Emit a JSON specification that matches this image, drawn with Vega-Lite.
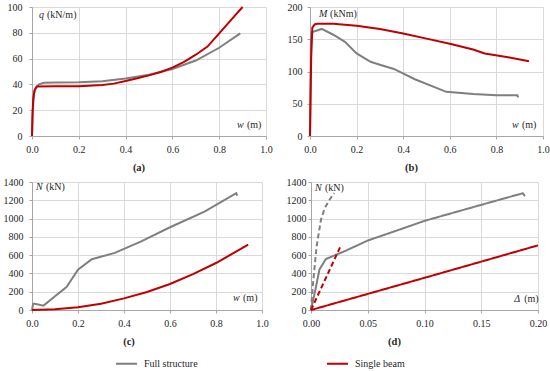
{
  "$schema": "https://vega.github.io/schema/vega-lite/v6.json",
  "padding": {"left": 3, "top": 2, "right": 0, "bottom": 0},
  "datasets": {
    "a": [
      {"series": "Full structure", "x": 0, "y": 0},
      {"series": "Full structure", "x": 0.003, "y": 20},
      {"series": "Full structure", "x": 0.008, "y": 32},
      {"series": "Full structure", "x": 0.015, "y": 37},
      {"series": "Full structure", "x": 0.03, "y": 40},
      {"series": "Full structure", "x": 0.05, "y": 41.3},
      {"series": "Full structure", "x": 0.1, "y": 41.4},
      {"series": "Full structure", "x": 0.2, "y": 41.6},
      {"series": "Full structure", "x": 0.3, "y": 42.4},
      {"series": "Full structure", "x": 0.4, "y": 44.6},
      {"series": "Full structure", "x": 0.5, "y": 47.5},
      {"series": "Full structure", "x": 0.6, "y": 52},
      {"series": "Full structure", "x": 0.7, "y": 58.5},
      {"series": "Full structure", "x": 0.8, "y": 68.4},
      {"series": "Full structure", "x": 0.89, "y": 79.6},
      {"series": "Single beam", "x": 0, "y": 0},
      {"series": "Single beam", "x": 0.002, "y": 15},
      {"series": "Single beam", "x": 0.005, "y": 28},
      {"series": "Single beam", "x": 0.01, "y": 35},
      {"series": "Single beam", "x": 0.02, "y": 38.3},
      {"series": "Single beam", "x": 0.1, "y": 38.5},
      {"series": "Single beam", "x": 0.2, "y": 38.6},
      {"series": "Single beam", "x": 0.3, "y": 39.5},
      {"series": "Single beam", "x": 0.35, "y": 40.6},
      {"series": "Single beam", "x": 0.4, "y": 42.7},
      {"series": "Single beam", "x": 0.45, "y": 44.7},
      {"series": "Single beam", "x": 0.5, "y": 47},
      {"series": "Single beam", "x": 0.55, "y": 49.6},
      {"series": "Single beam", "x": 0.6, "y": 53},
      {"series": "Single beam", "x": 0.65, "y": 57.5},
      {"series": "Single beam", "x": 0.7, "y": 63},
      {"series": "Single beam", "x": 0.75, "y": 69.3},
      {"series": "Single beam", "x": 0.8, "y": 79.5},
      {"series": "Single beam", "x": 0.85, "y": 89.8},
      {"series": "Single beam", "x": 0.9, "y": 100}
    ],
    "b": [
      {"series": "Full structure", "x": 0, "y": 0},
      {"series": "Full structure", "x": 0.004, "y": 150},
      {"series": "Full structure", "x": 0.008, "y": 160.5},
      {"series": "Full structure", "x": 0.02, "y": 162.5},
      {"series": "Full structure", "x": 0.05, "y": 166},
      {"series": "Full structure", "x": 0.1, "y": 157},
      {"series": "Full structure", "x": 0.15, "y": 146},
      {"series": "Full structure", "x": 0.2, "y": 128},
      {"series": "Full structure", "x": 0.26, "y": 115},
      {"series": "Full structure", "x": 0.3, "y": 110.5},
      {"series": "Full structure", "x": 0.36, "y": 104},
      {"series": "Full structure", "x": 0.45, "y": 88},
      {"series": "Full structure", "x": 0.585, "y": 68.5},
      {"series": "Full structure", "x": 0.7, "y": 65},
      {"series": "Full structure", "x": 0.8, "y": 63},
      {"series": "Full structure", "x": 0.89, "y": 63},
      {"series": "Full structure", "x": 0.893, "y": 60},
      {"series": "Single beam", "x": 0, "y": 0},
      {"series": "Single beam", "x": 0.005, "y": 120},
      {"series": "Single beam", "x": 0.01, "y": 168},
      {"series": "Single beam", "x": 0.02, "y": 173},
      {"series": "Single beam", "x": 0.03, "y": 174},
      {"series": "Single beam", "x": 0.1, "y": 174},
      {"series": "Single beam", "x": 0.2, "y": 171},
      {"series": "Single beam", "x": 0.3, "y": 166},
      {"series": "Single beam", "x": 0.4, "y": 159},
      {"series": "Single beam", "x": 0.5, "y": 151},
      {"series": "Single beam", "x": 0.6, "y": 143},
      {"series": "Single beam", "x": 0.7, "y": 134},
      {"series": "Single beam", "x": 0.75, "y": 128},
      {"series": "Single beam", "x": 0.85, "y": 122},
      {"series": "Single beam", "x": 0.94, "y": 116}
    ],
    "c": [
      {"series": "Full structure", "x": 0, "y": 0},
      {"series": "Full structure", "x": 0.005, "y": 68},
      {"series": "Full structure", "x": 0.012, "y": 68},
      {"series": "Full structure", "x": 0.05, "y": 48},
      {"series": "Full structure", "x": 0.1, "y": 150},
      {"series": "Full structure", "x": 0.15, "y": 250},
      {"series": "Full structure", "x": 0.2, "y": 440},
      {"series": "Full structure", "x": 0.26, "y": 555},
      {"series": "Full structure", "x": 0.36, "y": 625},
      {"series": "Full structure", "x": 0.475, "y": 750},
      {"series": "Full structure", "x": 0.6, "y": 905},
      {"series": "Full structure", "x": 0.75, "y": 1075},
      {"series": "Full structure", "x": 0.888, "y": 1277},
      {"series": "Full structure", "x": 0.892, "y": 1250},
      {"series": "Single beam", "x": 0, "y": 0},
      {"series": "Single beam", "x": 0.1, "y": 8},
      {"series": "Single beam", "x": 0.2, "y": 30},
      {"series": "Single beam", "x": 0.3, "y": 68},
      {"series": "Single beam", "x": 0.4, "y": 127},
      {"series": "Single beam", "x": 0.5, "y": 197},
      {"series": "Single beam", "x": 0.6, "y": 285},
      {"series": "Single beam", "x": 0.7, "y": 392},
      {"series": "Single beam", "x": 0.8, "y": 514},
      {"series": "Single beam", "x": 0.94, "y": 714}
    ],
    "d": [
      {"series": "Full structure", "group": "main", "x": 0, "y": 0},
      {"series": "Full structure", "group": "main", "x": 0.004, "y": 230},
      {"series": "Full structure", "group": "main", "x": 0.0075, "y": 445},
      {"series": "Full structure", "group": "main", "x": 0.0132, "y": 558},
      {"series": "Full structure", "group": "main", "x": 0.03, "y": 645},
      {"series": "Full structure", "group": "main", "x": 0.05, "y": 760},
      {"series": "Full structure", "group": "main", "x": 0.08, "y": 888},
      {"series": "Full structure", "group": "main", "x": 0.1, "y": 975},
      {"series": "Full structure", "group": "main", "x": 0.15, "y": 1150},
      {"series": "Full structure", "group": "main", "x": 0.1865, "y": 1277},
      {"series": "Full structure", "group": "main", "x": 0.1885, "y": 1245},
      {"series": "Single beam", "group": "main", "x": 0, "y": 0},
      {"series": "Single beam", "group": "main", "x": 0.05, "y": 176},
      {"series": "Single beam", "group": "main", "x": 0.1, "y": 352},
      {"series": "Single beam", "group": "main", "x": 0.15, "y": 529},
      {"series": "Single beam", "group": "main", "x": 0.2, "y": 707},
      {"series": "Full structure", "group": "initial", "x": 0, "y": 0},
      {"series": "Full structure", "group": "initial", "x": 0.0015, "y": 250},
      {"series": "Full structure", "group": "initial", "x": 0.003, "y": 450},
      {"series": "Full structure", "group": "initial", "x": 0.005, "y": 700},
      {"series": "Full structure", "group": "initial", "x": 0.0088, "y": 990},
      {"series": "Full structure", "group": "initial", "x": 0.012, "y": 1110},
      {"series": "Full structure", "group": "initial", "x": 0.016, "y": 1200},
      {"series": "Full structure", "group": "initial", "x": 0.0205, "y": 1280},
      {"series": "Single beam", "group": "initial", "x": 0, "y": 0},
      {"series": "Single beam", "group": "initial", "x": 0.0256, "y": 685}
    ]
  },
  "vconcat": [
    {
      "hconcat": [
        {
          "width": 234, "height": 129,
          "title": {"text": "(a)", "dx": -10},
          "encoding": {
            "x": {"type": "quantitative", "scale": {"domain": [0, 1], "nice": false, "zero": false}, "axis": {"values": [0, 0.2, 0.4, 0.6, 0.8, 1], "format": ".1f"}},
            "y": {"type": "quantitative", "scale": {"domain": [0, 100], "nice": false, "zero": false}, "axis": {"values": [0, 20, 40, 60, 80, 100], "labelPadding": 7}}
          },
          "layer": [
            {
              "data": {"name": "a"},
              "mark": {"type": "line", "strokeWidth": 2},
              "encoding": {
                "x": {"field": "x"},
                "y": {"field": "y"},
                "color": {"field": "series", "type": "nominal", "scale": {"domain": ["Full structure", "Single beam"], "range": ["#7f7f7f", "#c00000"]}, "legend": {"title": null}}
              }
            },
            {"data": {"values": [{}]}, "mark": {"type": "text", "align": "left", "baseline": "middle", "fontStyle": "italic"}, "encoding": {"x": {"datum": 0.03}, "y": {"datum": 94}, "text": {"value": "q"}}},
            {"data": {"values": [{}]}, "mark": {"type": "text", "align": "left", "baseline": "middle", "dx": 8}, "encoding": {"x": {"datum": 0.03}, "y": {"datum": 94}, "text": {"value": "(kN/m)"}}},
            {"data": {"values": [{}]}, "mark": {"type": "text", "align": "left", "baseline": "middle", "fontStyle": "italic"}, "encoding": {"x": {"datum": 0.876}, "y": {"datum": 8.5}, "text": {"value": "w"}}},
            {"data": {"values": [{}]}, "mark": {"type": "text", "align": "left", "baseline": "middle", "dx": 10}, "encoding": {"x": {"datum": 0.876}, "y": {"datum": 8.5}, "text": {"value": "(m)"}}}
          ]
        },
        {
          "width": 233, "height": 129,
          "title": {"text": "(b)", "dx": -15},
          "encoding": {
            "x": {"type": "quantitative", "scale": {"domain": [0, 1], "nice": false, "zero": false}, "axis": {"values": [0, 0.2, 0.4, 0.6, 0.8, 1], "format": ".1f"}},
            "y": {"type": "quantitative", "scale": {"domain": [0, 200], "nice": false, "zero": false}, "axis": {"values": [0, 50, 100, 150, 200], "labelPadding": 5}}
          },
          "layer": [
            {
              "data": {"name": "b"},
              "mark": {"type": "line", "strokeWidth": 2},
              "encoding": {
                "x": {"field": "x"},
                "y": {"field": "y"},
                "color": {"field": "series", "type": "nominal", "scale": {"domain": ["Full structure", "Single beam"], "range": ["#7f7f7f", "#c00000"]}, "legend": {"title": null}}
              }
            },
            {"data": {"values": [{}]}, "mark": {"type": "text", "align": "left", "baseline": "middle", "fontStyle": "italic"}, "encoding": {"x": {"datum": 0.039}, "y": {"datum": 189}, "text": {"value": "M"}}},
            {"data": {"values": [{}]}, "mark": {"type": "text", "align": "left", "baseline": "middle", "dx": 11}, "encoding": {"x": {"datum": 0.039}, "y": {"datum": 189}, "text": {"value": "(kNm)"}}},
            {"data": {"values": [{}]}, "mark": {"type": "text", "align": "left", "baseline": "middle", "fontStyle": "italic"}, "encoding": {"x": {"datum": 0.867}, "y": {"datum": 17}, "text": {"value": "w"}}},
            {"data": {"values": [{}]}, "mark": {"type": "text", "align": "left", "baseline": "middle", "dx": 10}, "encoding": {"x": {"datum": 0.867}, "y": {"datum": 17}, "text": {"value": "(m)"}}}
          ]
        }
      ],
      "spacing": 14
    },
    {
      "hconcat": [
        {
          "width": 230, "height": 128,
          "title": {"text": "(c)", "dx": -18},
          "encoding": {
            "x": {"type": "quantitative", "scale": {"domain": [0, 1], "nice": false, "zero": false}, "axis": {"values": [0, 0.2, 0.4, 0.6, 0.8, 1], "format": ".1f"}},
            "y": {"type": "quantitative", "scale": {"domain": [0, 1400], "nice": false, "zero": false}, "axis": {"values": [0, 200, 400, 600, 800, 1000, 1200, 1400], "format": "d", "labelPadding": 6}}
          },
          "layer": [
            {
              "data": {"name": "c"},
              "mark": {"type": "line", "strokeWidth": 2},
              "encoding": {
                "x": {"field": "x"},
                "y": {"field": "y"},
                "color": {"field": "series", "type": "nominal", "scale": {"domain": ["Full structure", "Single beam"], "range": ["#7f7f7f", "#c00000"]}, "legend": {"title": null}}
              }
            },
            {"data": {"values": [{}]}, "mark": {"type": "text", "align": "left", "baseline": "middle", "fontStyle": "italic"}, "encoding": {"x": {"datum": 0.017}, "y": {"datum": 1346}, "text": {"value": "N"}}},
            {"data": {"values": [{}]}, "mark": {"type": "text", "align": "left", "baseline": "middle", "dx": 10}, "encoding": {"x": {"datum": 0.017}, "y": {"datum": 1346}, "text": {"value": "(kN)"}}},
            {"data": {"values": [{}]}, "mark": {"type": "text", "align": "left", "baseline": "middle", "fontStyle": "italic"}, "encoding": {"x": {"datum": 0.874}, "y": {"datum": 131}, "text": {"value": "w"}}},
            {"data": {"values": [{}]}, "mark": {"type": "text", "align": "left", "baseline": "middle", "dx": 10}, "encoding": {"x": {"datum": 0.874}, "y": {"datum": 131}, "text": {"value": "(m)"}}}
          ]
        },
        {
          "width": 227, "height": 128,
          "title": {"text": "(d)", "dx": -30},
          "encoding": {
            "x": {"type": "quantitative", "scale": {"domain": [0, 0.2], "nice": false, "zero": false}, "axis": {"values": [0, 0.05, 0.1, 0.15, 0.2], "format": ".2f"}},
            "y": {"type": "quantitative", "scale": {"domain": [0, 1400], "nice": false, "zero": false}, "axis": {"values": [0, 200, 400, 600, 800, 1000, 1200, 1400], "format": "d", "labelPadding": 2}}
          },
          "layer": [
            {
              "data": {"name": "d"},
              "mark": {"type": "line", "strokeWidth": 2},
              "encoding": {
                "x": {"field": "x"},
                "y": {"field": "y"},
                "color": {"field": "series", "type": "nominal", "scale": {"domain": ["Full structure", "Single beam"], "range": ["#7f7f7f", "#c00000"]}, "legend": {"title": null}},
                "strokeDash": {"field": "group", "type": "nominal", "scale": {"domain": ["main", "initial"], "range": [[1, 0], [5, 3]]}, "legend": null}
              }
            },
            {"data": {"values": [{}]}, "mark": {"type": "text", "align": "left", "baseline": "middle", "fontStyle": "italic"}, "encoding": {"x": {"datum": 0.0035}, "y": {"datum": 1335}, "text": {"value": "N"}}},
            {"data": {"values": [{}]}, "mark": {"type": "text", "align": "left", "baseline": "middle", "dx": 10}, "encoding": {"x": {"datum": 0.0035}, "y": {"datum": 1335}, "text": {"value": "(kN)"}}},
            {"data": {"values": [{}]}, "mark": {"type": "text", "align": "left", "baseline": "middle", "fontStyle": "italic"}, "encoding": {"x": {"datum": 0.179}, "y": {"datum": 120}, "text": {"value": "Δ"}}},
            {"data": {"values": [{}]}, "mark": {"type": "text", "align": "left", "baseline": "middle", "dx": 10}, "encoding": {"x": {"datum": 0.179}, "y": {"datum": 120}, "text": {"value": "(m)"}}}
          ]
        }
      ],
      "spacing": 17
    }
  ],
  "spacing": 3,
  "config": {
    "font": "Liberation Serif",
    "view": {"stroke": null},
    "axis": {
      "title": null,
      "labelFont": "Liberation Serif",
      "labelFontSize": 10,
      "labelColor": "#262626",
      "labelOverlap": false,
      "labelFlush": false,
      "domainColor": "#a6a6a6",
      "tickColor": "#a6a6a6",
      "tickSize": 3,
      "grid": true,
      "gridColor": "#d9d9d9"
    },
    "axisX": {"labelPadding": 5},
    "title": {"orient": "bottom", "font": "Liberation Serif", "fontSize": 10.5, "fontWeight": "bold", "color": "#262626", "offset": 9, "anchor": "middle"},
    "text": {"font": "Liberation Serif", "fontSize": 10, "color": "#262626"},
    "legend": {
      "orient": "none",
      "legendX": 83,
      "legendY": 345,
      "direction": "horizontal",
      "symbolType": "stroke",
      "symbolSize": 441,
      "symbolStrokeWidth": 2,
      "labelFont": "Liberation Serif",
      "labelFontSize": 10,
      "labelColor": "#262626",
      "labelOffset": 6,
      "columnPadding": 125
    }
  }
}
